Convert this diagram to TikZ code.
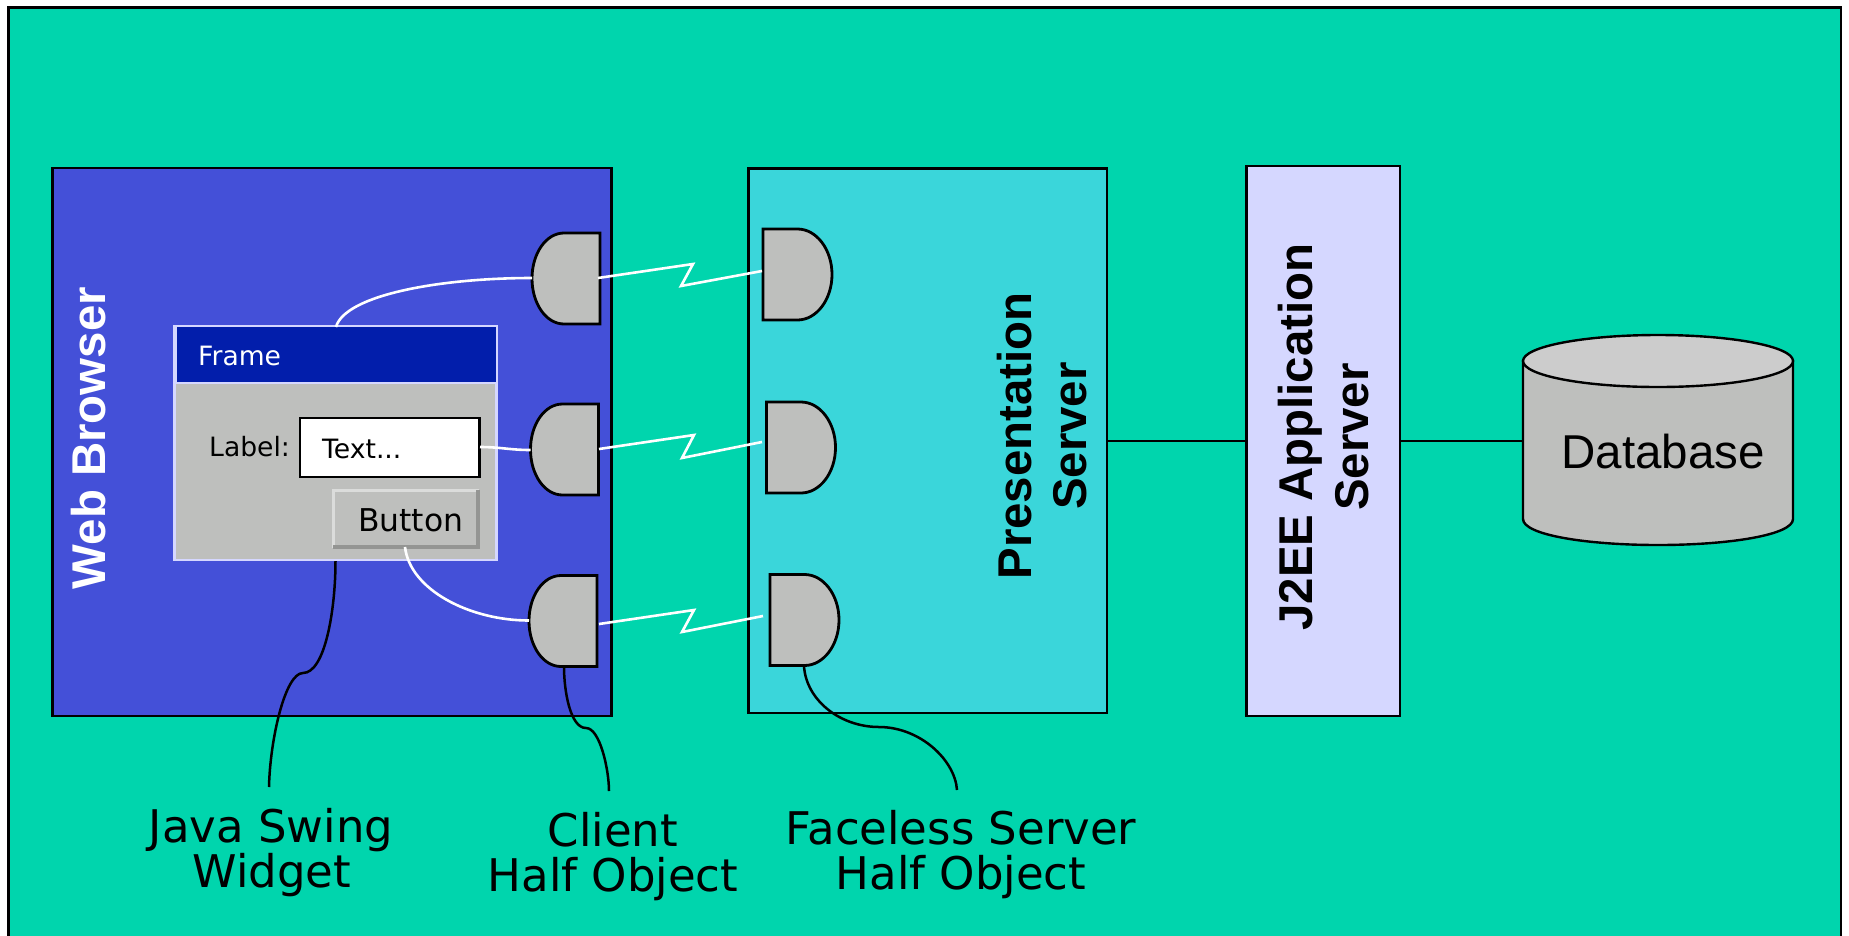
\documentclass[tikz,border=0pt]{standalone}
\usepackage{fontspec}
\setmainfont{DejaVu Sans}
\newfontfamily\helv{Liberation Sans}
\usetikzlibrary{calc}
\definecolor{bgc}{RGB}{0,213,173}
\definecolor{webc}{RGB}{68,80,216}
\definecolor{presc}{RGB}{58,214,218}
\definecolor{j2c}{RGB}{213,215,255}
\definecolor{grayc}{RGB}{190,191,189}
\definecolor{titlec}{RGB}{2,30,171}
\definecolor{dbtop}{RGB}{204,204,204}
\tikzset{
 box/.style={draw=black,line width=2.6pt,inner sep=0pt,outer sep=0pt,rectangle},
 ghost/.style={inner sep=0pt,outer sep=0pt,rectangle},
 halfshape/.style={draw=black,line width=2.8pt,fill=grayc,line join=miter},
 whitewire/.style={draw=white,line width=2.6pt,line join=miter},
 blackwire/.style={draw=black,line width=2.5pt},
 rottext/.style={font=\helv\bfseries\fontsize{47.4}{47.4}\selectfont,rotate=90,anchor=base,inner sep=0pt},
 lbl/.style={font=\fontsize{45}{45}\selectfont,anchor=base,inner sep=0pt},
 small/.style={font=\fontsize{26.6}{26.6}\selectfont,anchor=base west,inner sep=0pt},
}
\newcommand{\rbox}[7]{% name, style, color, x1,y1,x2,y2
 \node[#2,fill=#3,minimum width={(#6-#4)*1pt},minimum height={(#7-#5)*1pt}] (#1) at ({(#4+#6)/2},{(#5+#7)/2}) {};}
\newcommand{\halfL}[3]{%
 \node[ghost,minimum width=68pt,minimum height=91pt] (#1) at (#2,#3) {};
 \draw[halfshape,shift={(#2,#3)}] (34,-45.5) -- (-2,-45.5) .. controls (-20,-45.5) and (-34,-25) .. (-34,0) .. controls (-34,25) and (-20,45.5) .. (-2,45.5) -- (34,45.5) -- cycle;}
\newcommand{\halfR}[3]{%
 \node[ghost,minimum width=69pt,minimum height=91pt] (#1) at (#2,#3) {};
 \draw[halfshape,shift={(#2,#3)}] (-34.5,-45.5) -- (0,-45.5) .. controls (19,-45.5) and (34.5,-25) .. (34.5,0) .. controls (34.5,25) and (19,45.5) .. (0,45.5) -- (-34.5,45.5) -- cycle;}
\begin{document}
\begin{tikzpicture}[x=1pt,y=-1pt]
\useasboundingbox (0,0) rectangle (1849,935);
\fill[white] (0,0) rectangle (1849,935);
\rbox{outer}{box}{bgc}{8.5}{7.5}{1841}{945}
\rbox{web}{box}{webc}{52.5}{168}{611.5}{716}
\rbox{pres}{box}{presc}{748.5}{168.5}{1107}{713}
\rbox{jee}{box}{j2c}{1246.5}{166}{1400}{716}
% window
\rbox{frame}{ghost,draw=j2c,line width=2.6pt}{grayc}{174.5}{326}{496.5}{560}
\rbox{title}{ghost,draw=j2c,line width=2.6pt}{titlec}{176}{326}{497}{383}
\rbox{textbox}{box}{white}{300}{418}{479.5}{477}
\rbox{button}{ghost}{grayc}{332}{489}{480}{549}
\draw[line width=3pt,color=white!45!grayc] (button.south west)++(1.5,-1.5) -- ++(0,-57) -- ++(145,0);
\draw[line width=4pt,color=black!22!grayc] (button.south west)++(1,-2) -- ++(145,0) -- ++(0,-57);
\node[small,text=white] (ftxt) at (198,365) {Frame};
\node[small] (ltxt) at (209,456) {Label:};
\node[small] (ttxt) at (322,458) {Text...};
\node[small,font=\fontsize{31.4}{31.4}\selectfont] (btxt) at (358,531) {Button};
% half objects
\halfL{c1}{566}{278.5}
\halfL{c2}{564.5}{449.5}
\halfL{c3}{563}{621}
\halfR{s1}{797.5}{274.5}
\halfR{s2}{801}{447.5}
\halfR{s3}{804.5}{620}
% database
\node[ghost,minimum width=270pt,minimum height=209pt] (db) at (1658,440.5) {};
\draw[line width=2.4pt,fill=grayc] (db.north west)++(0,25) -- (1523,519) .. controls (1523,535) and (1587,545) .. (1658,545) .. controls (1729,545) and (1793,535) .. (1793,519) -- (1793,361) -- cycle;
\draw[line width=2.4pt,fill=dbtop] (1658,361) ellipse [x radius=135pt,y radius=26pt];
\node[font=\helv\fontsize{47.5}{47.5}\selectfont,anchor=base,inner sep=0pt] (dbtxt) at (1663,468) {Database};
% connectors
\coordinate (pr) at (1107,441);
\coordinate (jl) at (1246.5,441);
\coordinate (jr) at (1400,441);
\coordinate (dl) at (1523,441);
\draw[blackwire] (pr) -- (jl);
\draw[blackwire] (jr) -- (dl);
\coordinate (fs) at (336,327); \coordinate (c1w) at (532,278);
\draw[whitewire] (fs) .. controls (345,295) and (440,278) .. (c1w);
\coordinate (ts) at (480,447); \coordinate (c2w) at (530.5,450);
\draw[whitewire] (ts) .. controls (500,447) and (510,450) .. (c2w);
\coordinate (bs) at (405,547); \coordinate (c3w) at (529,620.5);
\draw[whitewire] (bs) .. controls (410,590) and (470,620.5) .. (c3w);
\coordinate (z1a) at (598,278); \coordinate (z1d) at (762,271);
\draw[whitewire] (z1a) -- (693,264) -- (681,286) -- (z1d);
\coordinate (z2a) at (599,449); \coordinate (z2d) at (762,442);
\draw[whitewire] (z2a) -- (694,435) -- (682,458) -- (z2d);
\coordinate (z3a) at (599,624); \coordinate (z3d) at (763,616);
\draw[whitewire] (z3a) -- (694,610) -- (682,632) -- (z3d);
\coordinate (fb) at (335.5,561); \coordinate (jw) at (269,787);
\draw[blackwire] (fb) .. controls (335.5,610) and (325,673) .. (303,673) .. controls (285,673) and (270,740) .. (jw);
\coordinate (c3b) at (564,667); \coordinate (cw) at (609,791);
\draw[blackwire] (c3b) .. controls (564,690) and (570,728) .. (586,728) .. controls (600,728) and (609,770) .. (cw);
\coordinate (s3b) at (804,666); \coordinate (sw) at (957,790);
\draw[blackwire] (s3b) .. controls (806,700) and (840,727) .. (879,727) .. controls (920,727) and (955,760) .. (sw);
% texts
\node[rottext,text=white] (wbt) at (105,438) {Web Browser};
\node[rottext] (pt1) at (1031,436) {Presentation};
\node[rottext] (pt2) at (1086,436) {Server};
\node[rottext] (jt1) at (1312,437) {J2EE Application};
\node[rottext] (jt2) at (1368,437) {Server};
\node[lbl] (l1a) at (271,842) {Java Swing};
\node[lbl] (l1b) at (272,887) {Widget};
\node[lbl] (l2a) at (613,846) {Client};
\node[lbl] (l2b) at (613,891) {Half Object};
\node[lbl] (l3a) at (961,844) {Faceless Server};
\node[lbl] (l3b) at (961,889) {Half Object};
\end{tikzpicture}
\end{document}
